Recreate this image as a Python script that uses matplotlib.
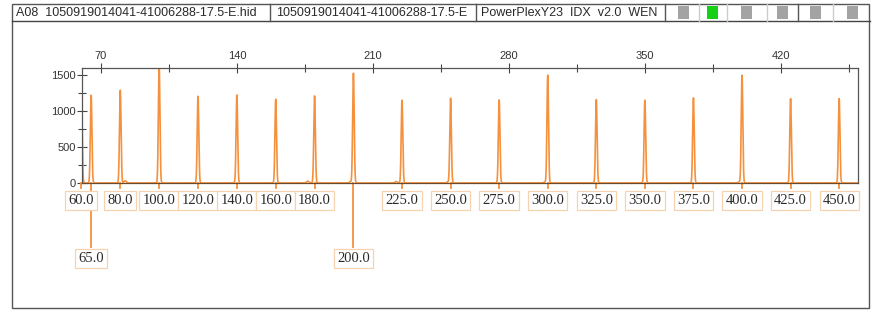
import numpy as np
import matplotlib; matplotlib.use('Agg')
import matplotlib.pyplot as plt
from matplotlib.patches import Rectangle
from matplotlib.lines import Line2D
import matplotlib.transforms as mtrans

# size standard peaks (bp) and heights (RFU)
sizes = [60, 65, 80, 100, 120, 140, 160, 180, 200, 225, 250, 275, 300, 325, 350, 375, 400, 425, 450]
heights = [1260, 1218, 1287, 1650, 1204, 1222, 1162, 1208, 1523, 1148, 1176, 1153, 1495, 1157, 1148, 1181, 1495, 1171, 1171]
# small side bumps
bump_pos = [82.5, 176.5, 198.5, 222.0, 248.5, 298.5, 398.5]
bump_h = [30, 25, 18, 20, 12, 12, 12]
# labels, lower row
row2 = [65, 200]

top_ticks = [70, 140, 210, 280, 350, 420]
top_minor = [105, 175, 245, 315, 385, 455]
y_ticks = [0, 500, 1000, 1500]
y_minor = [250, 750, 1250]

header = ["A08  1050919014041-41006288-17.5-E.hid", "1050919014041-41006288-17.5-E", "PowerPlexY23  IDX  v2.0  WEN"]
square_cols = ['#a3a3a3', '#16d016', '#a3a3a3', '#a3a3a3', '#a3a3a3', '#a3a3a3']

W, H = 876, 311
ORANGE = '#f5903c'
EDGE = '#f7d2b0'

def fx(x): return x / W
def fy(y): return 1 - y / H

fig = plt.figure(figsize=(8.76, 3.11), dpi=100)

# frame and header row
fig.add_artist(Rectangle((fx(12), fy(308)), fx(869) - fx(12), fy(4) - fy(308), transform=fig.transFigure,
                         fill=False, ec='#555555', lw=1))
fig.add_artist(Line2D([fx(12), fx(870)], [fy(21), fy(21)], transform=fig.transFigure, color='#444444', lw=1))
for xd, c in [(270, '#555555'), (476, '#555555'), (665, '#555555'), (699, '#cccccc'), (727, '#cccccc'),
              (767, '#cccccc'), (798, '#555555'), (833, '#cccccc')]:
    fig.add_artist(Line2D([fx(xd), fx(xd)], [fy(4), fy(21)], transform=fig.transFigure, color=c, lw=1))
for xt, t in zip([16, 276, 481], header):
    fig.text(fx(xt), fy(13), t, ha='left', va='center', fontsize=9, family='Liberation Sans', color='#2a2a2a')
for xs, c in zip([678, 707, 741, 777, 810, 847], square_cols):
    fig.add_artist(Rectangle((fx(xs), fy(18.5)), 11 / W, 12 / H, transform=fig.transFigure, fc=c, ec='none'))

# electropherogram
ax = fig.add_axes([fx(82), fy(183), fx(858) - fx(82), fy(67.7) - fy(183)])
x = np.arange(55, 465, 0.02)
y = np.zeros_like(x)
for p, h in zip(sizes, heights):
    y += h * np.exp(-0.5 * ((x - p) / 0.4) ** 2)
for p, h in zip(bump_pos, bump_h):
    y += h * np.exp(-0.5 * ((x - p) / 0.6) ** 2)
ax.plot(x, y, color=ORANGE, lw=1.2)
ax.set_xlim(60.3, 459.7)
ax.set_ylim(0, 1600)

ax.xaxis.tick_top()
ax.set_xticks(top_ticks)
ax.set_xticks(top_minor, minor=True)
ax.set_yticks(y_ticks)
ax.set_yticks(y_minor, minor=True)
ax.tick_params(axis='both', which='major', direction='inout', length=7, width=0.8, color='#444444',
               labelsize=8, labelcolor='#333333', pad=1)
ax.tick_params(axis='both', which='minor', direction='inout', length=6, width=0.8, color='#444444')
for lab in ax.get_xticklabels() + ax.get_yticklabels():
    lab.set_family('Liberation Sans')
for s in ax.spines.values():
    s.set_color('#555555'); s.set_linewidth(0.9)
ax.spines['bottom'].set_color('#6b4a2e')

# size labels under the baseline
axh = 183 - 67.7
tr = mtrans.blended_transform_factory(ax.transData, ax.transAxes)
for s in sizes:
    low = s in row2
    top_px = 247 if low else 188
    txt_px = 258.5 if low else 200.5
    ax.plot([s, s], [0, -(top_px - 183) / axh], transform=tr, color=ORANGE, lw=1.3, clip_on=False)
    ax.text(s, -(txt_px - 183) / axh, f'{s:.1f}', transform=tr, ha='center', va='center', fontsize=10.5,
            family='Liberation Serif', color='#2a2a2a',
            bbox=dict(boxstyle='square,pad=0.22', fc='white', ec=EDGE, lw=0.9))

plt.savefig('out.png', dpi=100)
